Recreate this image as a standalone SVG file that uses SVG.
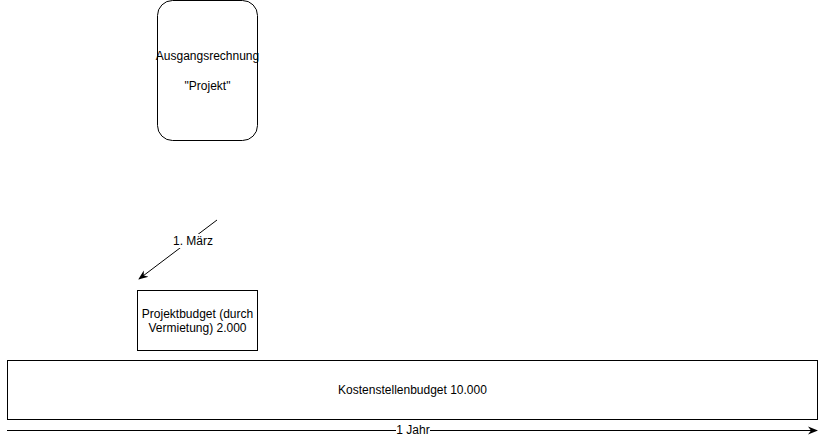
<svg xmlns="http://www.w3.org/2000/svg" width="826" height="439" viewBox="0 0 826 439">
<style>
.box{fill:#fff;stroke:#000;stroke-width:1}
.t{font-family:"Liberation Sans",Arial,sans-serif;font-size:12px;fill:#000;text-anchor:middle}
.c{fill:none;stroke:#000;stroke-width:1}
</style>
<defs>
<marker id="ah" viewBox="0 0 10 10" refX="9" refY="5" markerWidth="10" markerHeight="10" markerUnits="userSpaceOnUse" orient="auto">
<path d="M0,1 L10,5 L0,9 L3,5 Z" fill="#000"/>
</marker>
</defs>
<rect width="826" height="439" fill="#fff"/>
<g id="ausgangsrechnung">
<rect class="box" x="157.5" y="0.5" width="100" height="140" rx="15" ry="15"/>
<text class="t" x="207.5" y="60">Ausgangsrechnung</text>
<text class="t" x="207.5" y="90">"Projekt"</text>
</g>
<g id="projektbudget">
<rect class="box" x="137.5" y="290.5" width="120" height="60"/>
<text class="t" x="197.5" y="318">Projektbudget (durch</text>
<text class="t" x="197.5" y="332">Vermietung) 2.000</text>
</g>
<g id="kostenstellenbudget">
<rect class="box" x="7.5" y="360.5" width="810" height="59"/>
<text class="t" x="412.5" y="394">Kostenstellenbudget 10.000</text>
</g>
<g id="connectors">
<path class="c" d="M217,220 L139,279" marker-end="url(#ah)"/>
<rect x="172" y="234" width="42" height="14" fill="#fff"/>
<text class="t" x="193" y="245">1. März</text>
<path class="c" d="M7,430.5 L817,430.5" marker-end="url(#ah)"/>
<rect x="396" y="424" width="34" height="14" fill="#fff"/>
<text class="t" x="413" y="434">1 Jahr</text>
</g>
</svg>
